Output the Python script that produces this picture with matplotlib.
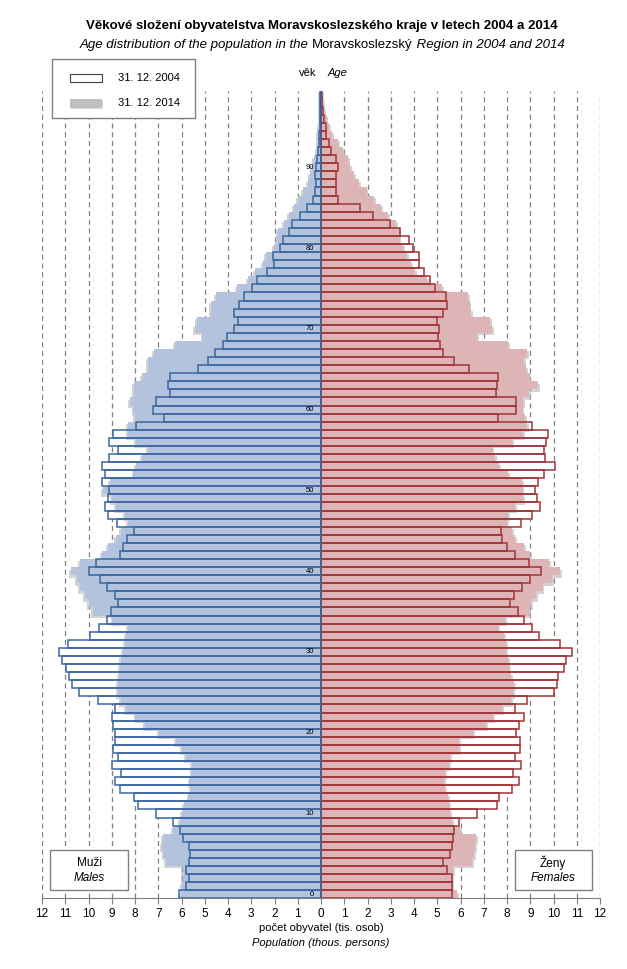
import matplotlib
matplotlib.use("Agg")
import matplotlib.pyplot as plt
import numpy as np
from matplotlib.patches import Rectangle

plt.rcParams['font.family'] = ['Liberation Sans', 'DejaVu Sans']

# population in thousands, ages 0..99
ages = np.arange(100)

males_2004 = [6.12, 5.79, 5.66, 5.79, 5.66, 5.62, 5.66, 5.92, 6.05, 6.35,
              7.10, 7.85, 8.03, 8.64, 8.85, 8.61, 8.99, 8.72, 8.94, 8.86,
              8.86, 8.94, 8.97, 8.85, 9.59, 10.41, 10.71, 10.84, 10.96, 11.14,
              11.26, 10.88, 9.94, 9.54, 9.21, 9.02, 8.72, 8.85, 9.20, 9.50,
              9.98, 9.68, 8.63, 8.50, 8.33, 8.03, 8.77, 9.15, 9.27, 9.16,
              9.10, 9.41, 9.28, 9.41, 9.10, 8.72, 9.10, 8.93, 7.94, 6.74,
              7.21, 7.08, 6.48, 6.58, 6.48, 5.28, 4.86, 4.54, 4.21, 4.04,
              3.74, 3.56, 3.74, 3.52, 3.30, 2.97, 2.74, 2.32, 2.02, 2.05,
              1.77, 1.64, 1.37, 1.23, 0.90, 0.62, 0.36, 0.25, 0.22, 0.25,
              0.22, 0.17, 0.14, 0.10, 0.07, 0.06, 0.05, 0.04, 0.03, 0.03]

males_2014 = [6.03, 5.99, 5.95, 5.95, 6.67, 6.78, 6.85, 6.81, 6.38, 6.06,
              5.99, 5.90, 5.70, 5.60, 5.66, 5.57, 5.54, 5.82, 6.00, 6.25,
              6.96, 7.59, 7.98, 8.38, 8.61, 8.72, 8.75, 8.69, 8.64, 8.61,
              8.53, 8.45, 8.38, 8.30, 8.97, 9.80, 9.98, 10.17, 10.38, 10.50,
              10.77, 10.38, 9.43, 9.16, 8.82, 8.60, 8.30, 8.45, 8.82, 9.00,
              9.39, 9.07, 8.07, 7.96, 7.69, 7.43, 7.96, 8.29, 8.29, 8.00,
              8.07, 8.22, 8.06, 8.03, 7.71, 7.43, 7.43, 7.19, 6.28, 5.10,
              5.44, 5.32, 4.75, 4.75, 4.53, 3.60, 3.14, 2.85, 2.51, 2.38,
              2.03, 1.88, 1.86, 1.59, 1.39, 1.18, 0.99, 0.76, 0.57, 0.49,
              0.40, 0.29, 0.19, 0.14, 0.12, 0.08, 0.06, 0.05, 0.04, 0.03]

females_2004 = [5.62, 5.65, 5.65, 5.43, 5.26, 5.56, 5.65, 5.69, 5.72, 5.95,
                6.72, 7.59, 7.67, 8.22, 8.53, 8.26, 8.61, 8.34, 8.56, 8.56,
                8.39, 8.53, 8.74, 8.34, 8.86, 10.03, 10.14, 10.20, 10.46, 10.55,
                10.80, 10.28, 9.38, 9.08, 8.72, 8.47, 8.14, 8.30, 8.66, 9.00,
                9.48, 8.96, 8.34, 8.00, 7.79, 7.74, 8.61, 9.08, 9.42, 9.30,
                9.20, 9.35, 9.61, 10.08, 9.65, 9.61, 9.66, 9.78, 9.09, 7.63,
                8.37, 8.37, 7.52, 7.57, 7.60, 6.36, 5.71, 5.25, 5.13, 5.05,
                5.08, 4.98, 5.25, 5.43, 5.38, 4.89, 4.68, 4.45, 4.21, 4.21,
                3.97, 3.79, 3.39, 2.97, 2.22, 1.67, 0.74, 0.65, 0.65, 0.66,
                0.74, 0.63, 0.43, 0.33, 0.23, 0.20, 0.12, 0.10, 0.06, 0.05]

females_2014 = [5.86, 5.65, 5.62, 5.69, 6.49, 6.58, 6.62, 6.67, 5.98, 5.62,
                5.55, 5.50, 5.45, 5.35, 5.30, 5.35, 5.50, 5.55, 5.93, 5.95,
                6.53, 7.11, 7.40, 7.79, 8.19, 8.26, 8.31, 8.19, 8.08, 8.03,
                7.95, 7.95, 7.87, 7.63, 7.90, 8.97, 9.05, 9.26, 9.53, 9.92,
                10.28, 9.81, 9.00, 8.74, 8.34, 8.22, 8.00, 8.03, 8.34, 8.70,
                8.67, 8.63, 8.06, 7.67, 7.48, 7.38, 8.20, 8.70, 8.85, 8.77,
                8.67, 8.70, 8.94, 9.32, 8.97, 8.82, 8.74, 8.85, 8.06, 6.73,
                7.37, 7.26, 6.45, 6.39, 6.34, 5.19, 4.56, 4.05, 3.88, 3.69,
                3.53, 3.38, 3.38, 3.22, 2.90, 2.59, 2.27, 1.96, 1.63, 1.43,
                1.25, 1.15, 0.96, 0.74, 0.46, 0.34, 0.24, 0.14, 0.09, 0.06]

age_labels = np.arange(0, 100, 10)
x_ticks = np.arange(-12, 13)

m04 = np.array(males_2004)
m14 = np.array(males_2014)
f04 = np.array(females_2004)
f14 = np.array(females_2014)

blue_fill = '#b3c3de'
red_fill = '#ddb5b6'
blue_line = '#3a67a0'
red_line = '#a03438'

fig = plt.figure(figsize=(6.27, 9.69), dpi=100)
ax = fig.add_axes([42 / 627, (969 - 898.3) / 969, 558 / 627, (898.3 - 90.5) / 969])

# 2004 bars with white fill (under the 2014 fill)
ax.barh(ages, -m04, height=1, color='white', zorder=1)
ax.barh(ages, f04, height=1, color='white', zorder=1)

# soft shadow of 2014 bars
ax.barh(ages - 0.3, -(m14 + 0.08), height=1, color='#b0b0b0', alpha=0.55, zorder=1.5, linewidth=0)
ax.barh(ages - 0.3, f14 + 0.08, height=1, color='#b0b0b0', alpha=0.55, zorder=1.5, linewidth=0)

# 2014 filled bars
ax.barh(ages, -m14, height=1, color=blue_fill, zorder=2, linewidth=0)
ax.barh(ages, f14, height=1, color=red_fill, zorder=2, linewidth=0)

# 2004 outlines
ax.barh(ages, -m04, height=1, fill=False, edgecolor=blue_line, linewidth=1.1, zorder=3)
ax.barh(ages, f04, height=1, fill=False, edgecolor=red_line, linewidth=1.1, zorder=3)
ax.axvline(0, color=blue_line, linewidth=1.1, zorder=3.5)

for a in age_labels:
    ax.text(-0.3, a, str(a), ha='right', va='center', fontsize=5.5, zorder=4)

ax.set_xlim(-12, 12)
ax.set_ylim(-0.5, 99.5)
ax.set_xticks(x_ticks)
ax.set_xticklabels([str(abs(v)) for v in x_ticks], fontsize=8.5)
ax.set_yticks([])
ax.xaxis.grid(True, color='#808080', linestyle=(0, (4, 3)), linewidth=0.9)
ax.set_axisbelow(True)
for s in ['top', 'left', 'right']:
    ax.spines[s].set_visible(False)
ax.spines['bottom'].set_color('#808080')
ax.tick_params(axis='x', length=4, color='#808080', pad=3)

# overlay in pixel coordinates for titles, legend and boxes
ov = fig.add_axes([0, 0, 1, 1], zorder=10)
ov.set_xlim(0, 627)
ov.set_ylim(969, 0)
ov.axis('off')

ov.text(322, 26, 'Věkové složení obyvatelstva Moravskoslezského kraje v letech 2004 a 2014',
        ha='center', va='center', fontsize=9.5, fontweight='bold')

parts = [('Age distribution of the population in the ', 'italic'),
         ('Moravskoslezský', 'normal'),
         (' Region in 2004 and 2014', 'italic')]
renderer = fig.canvas.get_renderer()
texts = [ov.text(0, 45, p, style=st, fontsize=9.5, ha='left', va='center') for p, st in parts]
widths = [t.get_window_extent(renderer).width for t in texts]
x0 = 322 - sum(widths) / 2
for t, w in zip(texts, widths):
    t.set_x(x0)
    x0 += w

ov.text(308, 73, 'věk', ha='center', va='center', fontsize=8)
ov.text(337, 73, 'Age', ha='center', va='center', fontsize=8, style='italic')

# legend
ov.add_patch(Rectangle((52, 59), 143, 59, facecolor='white', edgecolor='#808080', linewidth=1, zorder=1))
ov.add_patch(Rectangle((70, 74), 32, 8, facecolor='white', edgecolor='#404040', linewidth=0.8, zorder=2))
ov.add_patch(Rectangle((71, 100), 32, 9, facecolor='#d8d8d8', edgecolor='none', zorder=2))
ov.add_patch(Rectangle((70, 99), 32, 9, facecolor='#bfbfbf', edgecolor='none', zorder=3))
ov.text(118, 78, '31. 12. 2004', ha='left', va='center', fontsize=8)
ov.text(118, 103, '31. 12. 2014', ha='left', va='center', fontsize=8)

# sex boxes
ov.add_patch(Rectangle((50, 850), 78, 40, facecolor='white', edgecolor='#808080', linewidth=1))
ov.text(89, 863, 'Muži', ha='center', va='center', fontsize=8.5)
ov.text(89, 878, 'Males', ha='center', va='center', fontsize=8.5, style='italic')
ov.add_patch(Rectangle((515, 850), 77, 40, facecolor='white', edgecolor='#808080', linewidth=1))
ov.text(553, 863, 'Ženy', ha='center', va='center', fontsize=8.5)
ov.text(553, 878, 'Females', ha='center', va='center', fontsize=8.5, style='italic')

ov.text(321, 928, 'počet obyvatel (tis. osob)', ha='center', va='center', fontsize=8)
ov.text(321, 943, 'Population (thous. persons)', ha='center', va='center', fontsize=8, style='italic')

fig.savefig('out.png', dpi=100)
